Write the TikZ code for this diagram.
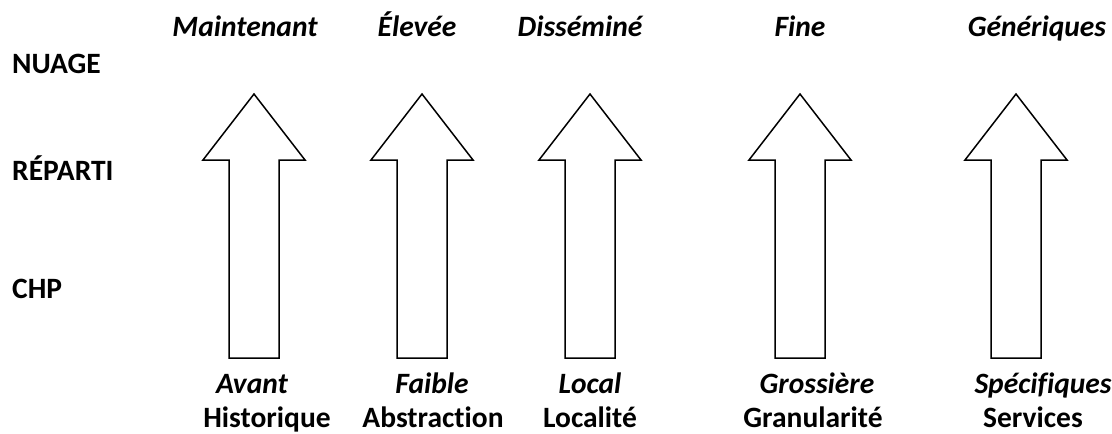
\documentclass[tikz,border=0pt]{standalone}
\usepackage{fontspec}
\setmainfont[Ligatures=NoCommon]{Carlito}
\usepackage{tikz}
\usetikzlibrary{positioning}

\begin{document}
\begin{tikzpicture}[x=1pt, y=-1pt, every node/.style={font=\fontsize{29.5}{32}\selectfont\bfseries, inner sep=0pt, anchor=base}, level/.style={anchor=base west}, high/.style={font=\fontsize{29.5}{32}\selectfont\bfseries\itshape}, low/.style={font=\fontsize{29.5}{32}\selectfont\bfseries\itshape}, axis/.style={}, fat/.style={draw, line width=1.5pt, line join=miter, fill=white}]
\useasboundingbox (0,0) rectangle (1112,434);
% niveaux a gauche
\node[level] (nuage) at (12,73) {NUAGE};
\node[level] (reparti) at (12,180) {RÉPARTI};
\node[level] (chp) at (12,298) {CHP};
% fleches
\foreach \x in {254,422,590,800,1016}
  \draw[fat] (\x-25,358) -- (\x-25,160) -- (\x-51,160) -- (\x,94) -- (\x+51,160) -- (\x+25,160) -- (\x+25,358) -- cycle;
% en haut
\node[high] (maint) at (245,36) {Maintenant};
\node[high] (elevee) at (417,36) {Élevée};
\node[high] (dissem) at (580,36) {Disséminé};
\node[high] (fine) at (800,36) {Fine};
\node[high] (gener) at (1037,36) {Génériques};
% en bas
\node[low] (avant) at (252,393) {Avant};
\node[axis] (hist) at (267,427) {Historique};
\node[low] (faible) at (432,393) {Faible};
\node[axis] (abstr) at (433,427) {Abstraction};
\node[low] (local) at (590,393) {Local};
\node[axis] (localite) at (590,427) {Localité};
\node[low] (gross) at (817,393) {Grossière};
\node[axis] (granul) at (813,427) {Granularité};
\node[low] (specif) at (1043,393) {Spécifiques};
\node[axis] (serv) at (1033,427) {Services};
\end{tikzpicture}
\end{document}
